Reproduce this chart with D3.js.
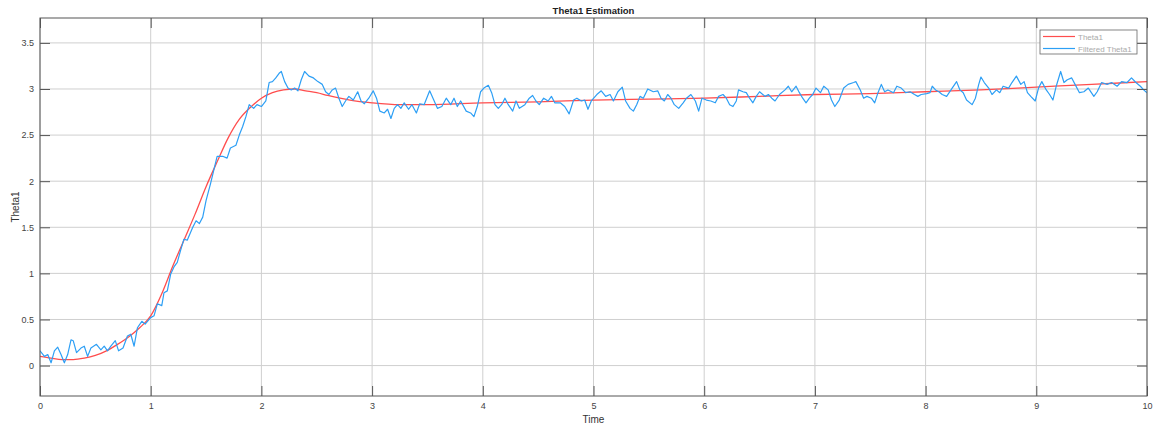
<!DOCTYPE html>
<html>
<head>
<meta charset="utf-8">
<script src="https://cdn.jsdelivr.net/npm/d3@7"></script>
<style>
  body { margin: 0; background: #fff; }
  svg { font-family: 'Liberation Sans', Arial, sans-serif; }
  .tick-label { font-size: 9px; fill: #444; }
</style>
</head>
<body>
<div id="chart"></div>
<script>
// ---- DATA ------------------------------------------------------------------
const xTicks = [0, 1, 2, 3, 4, 5, 6, 7, 8, 9, 10];
const yTicks = [0, 0.5, 1, 1.5, 2, 2.5, 3, 3.5];
const seriesNames = ['Theta1', 'Filtered Theta1'];

// true state (smooth)
const thetaT = [0, 0.1, 0.2, 0.3, 0.4, 0.5, 0.6, 0.7, 0.8, 0.9, 1.0, 1.1, 1.2, 1.3, 1.4, 1.5,
  1.6, 1.7, 1.8, 1.9, 2.0, 2.1, 2.2, 2.3, 2.4, 2.5, 2.6, 2.8, 3.0, 3.25, 3.5, 4.0, 4.5,
  5.0, 5.5, 6.0, 6.5, 7.0, 7.5, 8.0, 8.5, 9.0, 9.5, 10];
const thetaV = [0.10, 0.08, 0.065, 0.065, 0.08, 0.11, 0.16, 0.23, 0.31, 0.41, 0.54, 0.78, 1.08,
  1.36, 1.64, 1.94, 2.21, 2.47, 2.67, 2.80, 2.90, 2.96, 2.99, 3.00, 2.98, 2.96, 2.93, 2.88,
  2.85, 2.83, 2.83, 2.85, 2.86, 2.88, 2.89, 2.90, 2.92, 2.94, 2.95, 2.97, 2.99, 3.02, 3.05, 3.08];

// filtered estimate (noisy)
const filtT = [0.00, 0.04, 0.07, 0.10, 0.13, 0.16, 0.19, 0.22, 0.25, 0.28, 0.30, 0.33, 0.37, 0.40,
  0.43, 0.46, 0.51, 0.55, 0.58, 0.61, 0.64, 0.68, 0.71, 0.75, 0.79, 0.82, 0.85, 0.88, 0.92, 0.95,
  1.00, 1.03, 1.06, 1.10, 1.12, 1.15, 1.18, 1.21, 1.24, 1.27, 1.30, 1.33, 1.38, 1.41, 1.44, 1.47,
  1.50, 1.54, 1.57, 1.60, 1.65, 1.69, 1.72, 1.77, 1.80, 1.83, 1.86, 1.89, 1.93, 1.96, 2.00,
  2.04, 2.07, 2.10, 2.13, 2.16, 2.18, 2.21, 2.24, 2.27, 2.30, 2.33, 2.36, 2.39, 2.43, 2.47, 2.51,
  2.55, 2.58, 2.61, 2.64, 2.67, 2.70, 2.73, 2.76, 2.79, 2.83, 2.87, 2.90, 2.93, 2.97, 3.01, 3.04,
  3.07, 3.11, 3.14, 3.17, 3.20, 3.23, 3.26, 3.29, 3.33, 3.36, 3.40, 3.43, 3.47, 3.52, 3.55, 3.59,
  3.63, 3.67, 3.71, 3.74, 3.77, 3.80, 3.85, 3.89, 3.92, 3.95, 3.98, 4.01, 4.05, 4.08, 4.11, 4.14,
  4.17, 4.20, 4.23, 4.27, 4.30, 4.33, 4.38, 4.42, 4.45, 4.48, 4.51, 4.55, 4.59, 4.62, 4.65, 4.70,
  4.74, 4.78, 4.82, 4.85, 4.89, 4.92, 4.95, 4.98, 5.03, 5.07, 5.11, 5.15, 5.18, 5.22, 5.26, 5.29,
  5.33, 5.36, 5.39, 5.42, 5.45, 5.49, 5.54, 5.58, 5.61, 5.64, 5.67, 5.70, 5.73, 5.77, 5.81, 5.84,
  5.88, 5.92, 5.95, 5.98, 6.02, 6.06, 6.10, 6.13, 6.17, 6.20, 6.23, 6.26, 6.29, 6.31, 6.35, 6.38,
  6.41, 6.44, 6.47, 6.50, 6.55, 6.58, 6.61, 6.64, 6.68, 6.73, 6.76, 6.79, 6.83, 6.86, 6.89, 6.92,
  6.95, 6.98, 7.01, 7.05, 7.08, 7.12, 7.15, 7.18, 7.22, 7.26, 7.30, 7.35, 7.37, 7.41, 7.44, 7.47,
  7.51, 7.54, 7.57, 7.60, 7.63, 7.66, 7.71, 7.74, 7.78, 7.82, 7.86, 7.90, 7.93, 7.96, 8.01, 8.04,
  8.06, 8.09, 8.12, 8.15, 8.19, 8.24, 8.28, 8.31, 8.34, 8.37, 8.42, 8.45, 8.48, 8.50, 8.53, 8.57,
  8.60, 8.64, 8.67, 8.70, 8.75, 8.78, 8.82, 8.86, 8.89, 8.92, 8.95, 8.99, 9.02, 9.05, 9.09, 9.12,
  9.15, 9.18, 9.22, 9.25, 9.28, 9.32, 9.35, 9.39, 9.43, 9.47, 9.52, 9.55, 9.59, 9.64, 9.68, 9.73,
  9.77, 9.82, 9.86, 9.90, 9.94, 9.97, 10.0];
const filtV = [0.16, 0.10, 0.12, 0.03, 0.16, 0.20, 0.12, 0.03, 0.12, 0.28, 0.27, 0.14, 0.19, 0.21,
  0.10, 0.19, 0.23, 0.17, 0.21, 0.16, 0.21, 0.27, 0.16, 0.19, 0.32, 0.34, 0.21, 0.41, 0.48, 0.45,
  0.52, 0.54, 0.67, 0.65, 0.79, 0.81, 0.99, 1.07, 1.12, 1.25, 1.37, 1.36, 1.50, 1.57, 1.54, 1.61,
  1.79, 1.97, 2.12, 2.27, 2.27, 2.25, 2.36, 2.39, 2.50, 2.59, 2.70, 2.83, 2.79, 2.83, 2.81,
  2.87, 3.07, 3.08, 3.12, 3.17, 3.19, 3.08, 3.01, 2.99, 3.01, 2.98, 3.10, 3.19, 3.14, 3.12, 3.08,
  3.05, 2.97, 2.94, 2.99, 3.01, 2.90, 2.81, 2.87, 2.92, 2.88, 2.97, 2.87, 2.84, 2.90, 2.98, 2.90,
  2.76, 2.74, 2.78, 2.68, 2.79, 2.83, 2.79, 2.85, 2.78, 2.83, 2.74, 2.84, 2.83, 2.98, 2.90, 2.79,
  2.81, 2.90, 2.83, 2.90, 2.81, 2.87, 2.76, 2.74, 2.70, 2.81, 2.97, 3.01, 3.04, 2.96, 2.83, 2.79,
  2.83, 2.90, 2.83, 2.76, 2.87, 2.79, 2.83, 2.90, 2.93, 2.87, 2.83, 2.90, 2.87, 2.92, 2.85, 2.85,
  2.81, 2.73, 2.88, 2.90, 2.87, 2.88, 2.78, 2.87, 2.94, 2.98, 2.92, 2.94, 2.87, 2.97, 3.02, 2.87,
  2.79, 2.76, 2.83, 2.92, 2.90, 3.00, 2.97, 2.98, 2.90, 2.87, 2.94, 2.90, 2.83, 2.79, 2.85, 2.90,
  2.94, 2.87, 2.76, 2.90, 2.88, 2.87, 2.85, 2.92, 2.94, 2.90, 2.83, 2.81, 2.87, 2.99, 2.97, 2.96,
  2.90, 2.85, 2.92, 2.97, 2.92, 2.94, 2.90, 2.87, 2.94, 2.99, 3.03, 2.97, 3.03, 2.96, 2.90, 2.85,
  2.90, 2.94, 3.01, 2.96, 3.03, 2.99, 2.88, 2.81, 2.88, 3.01, 3.05, 3.07, 3.08, 2.99, 2.90, 2.92,
  2.90, 2.85, 2.96, 3.05, 2.97, 2.99, 2.96, 3.03, 3.01, 2.96, 2.97, 2.94, 2.92, 2.94, 2.95, 2.96,
  3.03, 2.99, 2.97, 2.94, 2.92, 3.01, 3.08, 2.99, 2.96, 2.88, 2.83, 2.90, 3.05, 3.13, 3.07, 3.01,
  2.94, 2.99, 2.96, 3.03, 3.01, 3.07, 3.14, 3.05, 3.08, 2.96, 2.92, 2.87, 3.01, 3.08, 2.99, 2.94,
  2.88, 3.03, 3.19, 3.07, 3.10, 3.12, 3.05, 2.96, 2.97, 3.01, 2.92, 2.97, 3.07, 3.05, 3.07, 3.03,
  3.08, 3.07, 3.12, 3.07, 3.03, 2.99, 2.96];

// ---- LAYOUT ----------------------------------------------------------------
const W = 1155;
const H = 430;
const margin = { top: 18, right: 8, bottom: 34, left: 40 };
const width = 1147 - margin.left;
const height = 396 - margin.top;

const svg = d3.select('#chart').append('svg')
  .attr('width', W)
  .attr('height', H);

const g = svg.append('g')
  .attr('transform', `translate(${margin.left}, ${margin.top})`);

const x = d3.scaleLinear().domain([0, 10]).range([0, width]);
const y = d3.scaleLinear().domain([-0.33, 3.77]).range([height, 0]);

// grid
g.append('g').selectAll('line')
  .data(xTicks)
  .enter().append('line')
    .attr('x1', d => x(d)).attr('x2', d => x(d))
    .attr('y1', 0).attr('y2', height)
    .attr('stroke', '#cfcfcf')
    .attr('stroke-width', 1);

g.append('g').selectAll('line')
  .data(yTicks)
  .enter().append('line')
    .attr('x1', 0).attr('x2', width)
    .attr('y1', d => y(d)).attr('y2', d => y(d))
    .attr('stroke', '#cfcfcf')
    .attr('stroke-width', 1);

// lines
svg.append('clipPath').attr('id', 'clip')
  .append('rect').attr('width', width).attr('height', height);

const redData = thetaT.map((t, i) => [t, thetaV[i]]);
const blueData = filtT.map((t, i) => [t, filtV[i]]);

const line = d3.line()
  .x(d => x(d[0]))
  .y(d => y(d[1]));

g.append('path')
  .datum(redData)
  .attr('clip-path', 'url(#clip)')
  .attr('fill', 'none')
  .attr('stroke', '#ff4d4d')
  .attr('stroke-width', 1.3)
  .attr('d', line.curve(d3.curveMonotoneX));

g.append('path')
  .datum(blueData)
  .attr('clip-path', 'url(#clip)')
  .attr('fill', 'none')
  .attr('stroke', '#2d9ff5')
  .attr('stroke-width', 1.2)
  .attr('stroke-linejoin', 'round')
  .attr('d', line.curve(d3.curveLinear));

// axes: box with inward ticks on all four sides
const tickLen = 10;
const axisColor = '#555';
const fmt = d => String(d);

g.append('rect')
  .attr('width', width).attr('height', height)
  .attr('fill', 'none')
  .attr('stroke', axisColor)
  .attr('stroke-width', 1);

const xAxisB = d3.axisBottom(x).tickValues(xTicks).tickSize(-tickLen).tickPadding(7).tickFormat(fmt);
const xAxisT = d3.axisTop(x).tickValues(xTicks).tickSize(-tickLen).tickFormat('');
const yAxisL = d3.axisLeft(y).tickValues(yTicks).tickSize(-tickLen).tickPadding(6).tickFormat(fmt);
const yAxisR = d3.axisRight(y).tickValues(yTicks).tickSize(-tickLen).tickFormat('');

function styleAxis(sel) {
  sel.select('.domain').remove();
  sel.selectAll('.tick line').attr('stroke', axisColor);
  sel.selectAll('.tick text')
    .attr('class', 'tick-label')
    .style('font-family', "'Liberation Sans', Arial, sans-serif");
}

g.append('g').attr('transform', `translate(0, ${height})`).call(xAxisB).call(styleAxis);
g.append('g').call(xAxisT).call(styleAxis);
g.append('g').call(yAxisL).call(styleAxis);
g.append('g').attr('transform', `translate(${width}, 0)`).call(yAxisR).call(styleAxis);

// titles
svg.append('text')
  .attr('x', margin.left + width / 2)
  .attr('y', 14)
  .attr('text-anchor', 'middle')
  .style('font-size', '9.5px')
  .style('font-weight', 'bold')
  .style('fill', '#222')
  .text('Theta1 Estimation');

svg.append('text')
  .attr('x', margin.left + width / 2)
  .attr('y', 423)
  .attr('text-anchor', 'middle')
  .style('font-size', '10px')
  .style('fill', '#333')
  .text('Time');

svg.append('text')
  .attr('transform', `translate(19, ${margin.top + height / 2}) rotate(-90)`)
  .attr('text-anchor', 'middle')
  .style('font-size', '10px')
  .style('fill', '#333')
  .text('Theta1');

// legend
const legend = svg.append('g').attr('transform', 'translate(1040, 30)');
legend.append('rect')
  .attr('width', 97).attr('height', 24)
  .attr('fill', '#fff')
  .attr('stroke', '#666')
  .attr('stroke-width', 0.8);

const legendColors = ['#ff4d4d', '#2d9ff5'];
seriesNames.forEach((name, i) => {
  const yy = 6.5 + i * 12;
  legend.append('line')
    .attr('x1', 3).attr('x2', 35)
    .attr('y1', yy).attr('y2', yy)
    .attr('stroke', legendColors[i])
    .attr('stroke-width', 1.2);
  legend.append('text')
    .attr('x', 38).attr('y', yy + 3)
    .style('font-size', '8px')
    .style('fill', '#aaa')
    .text(name);
});
</script>
</body>
</html>
